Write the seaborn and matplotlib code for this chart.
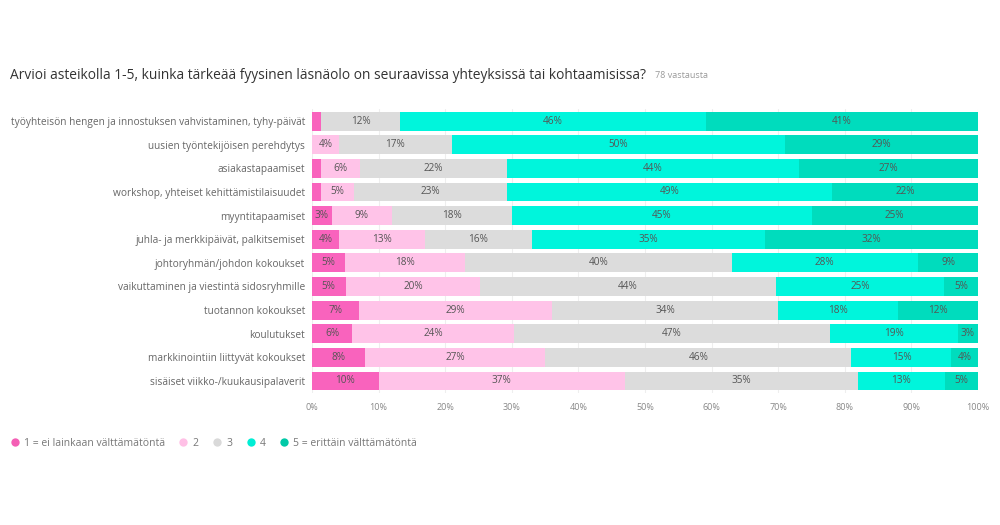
import numpy as np
import pandas as pd
import matplotlib
matplotlib.use("Agg")
import matplotlib.pyplot as plt
import seaborn as sns
from matplotlib.lines import Line2D

categories = [
    "työyhteisön hengen ja innostuksen vahvistaminen, tyhy-päivät",
    "uusien työntekijöisen perehdytys",
    "asiakastapaamiset",
    "workshop, yhteiset kehittämistilaisuudet",
    "myyntitapaamiset",
    "juhla- ja merkkipäivät, palkitsemiset",
    "johtoryhmän/johdon kokoukset",
    "vaikuttaminen ja viestintä sidosryhmille",
    "tuotannon kokoukset",
    "koulutukset",
    "markkinointiin liittyvät kokoukset",
    "sisäiset viikko-/kuukausipalaverit",
]
v1 = [1.3, 0, 1.3, 1.3, 3, 4, 5, 5, 7, 6, 8, 10]
v2 = [0, 4, 6, 5, 9, 13, 18, 20, 29, 24, 27, 37]
v3 = [12, 17, 22, 23, 18, 16, 40, 44, 34, 47, 46, 35]
v4 = [46, 50, 44, 49, 45, 35, 28, 25, 18, 19, 15, 13]
v5 = [41, 29, 27, 22, 25, 32, 9, 5, 12, 3, 4, 5]
series_names = ["1 = ei lainkaan välttämätöntä", "2", "3", "4", "5 = erittäin välttämätöntä"]
colors = ["#f963bd", "#ffc3e8", "#dcdcdc", "#00f5dc", "#00dcbd"]
legend_colors = ["#f45fb5", "#ffc0e6", "#d9d9d9", "#00eed5", "#00c9a7"]
xticks = [0, 10, 20, 30, 40, 50, 60, 70, 80, 90, 100]
title = "Arvioi asteikolla 1-5, kuinka tärkeää fyysinen läsnäolo on seuraavissa yhteyksissä tai kohtaamisissa?"
subtitle = "78 vastausta"

sns.set_theme(style="white")
plt.rcParams["font.family"] = ["Open Sans", "DejaVu Sans"]

vals = np.array([v1, v2, v3, v4, v5], dtype=float)
vals = vals / vals.sum(axis=0) * 100.0
cums = np.cumsum(vals, axis=0)

fig = plt.figure(figsize=(10, 5.25), dpi=100)
ax = fig.add_axes([0.312, 0.2518, 0.666, 0.540])

for x in xticks:
    ax.axvline(x, color="#eeeeee", lw=0.8, zorder=0)

for i in range(4, -1, -1):
    df = pd.DataFrame({"cat": categories, "val": cums[i]})
    sns.barplot(data=df, x="val", y="cat", orient="h", color=colors[i],
                width=0.8, ax=ax, saturation=1, edgecolor="none", linewidth=0, zorder=2)

raw = [v1, v2, v3, v4, v5]
for i in range(5):
    for j in range(len(categories)):
        lab = raw[i][j]
        if lab >= 3:
            center = cums[i][j] - vals[i][j] / 2
            ax.text(center, j, f"{int(round(lab))}%", ha="center", va="center",
                    fontsize=7.2, color="#555555", zorder=5)

ax.set_xlim(0, 100)
ax.set_ylim(len(categories) - 0.5, -0.5)
ax.set_xticks(xticks)
ax.set_xticklabels([f"{t}%" for t in xticks], fontsize=6.5, color="#888888")
ax.tick_params(axis="y", labelsize=7.3, colors="#666666", length=0, pad=5)
ax.tick_params(axis="x", length=0, pad=7)
ax.set_xlabel("")
ax.set_ylabel("")
for s in ax.spines.values():
    s.set_visible(False)

fig.text(0.01, 0.857, title, fontsize=9.9, color="#333333", ha="left", va="center")
fig.text(0.655, 0.857, subtitle, fontsize=6.5, color="#999999", ha="left", va="center")

handles = [Line2D([0], [0], marker="o", linestyle="", markersize=6,
                  markerfacecolor=c, markeredgecolor="none") for c in legend_colors]
fig.legend(handles, series_names, loc="center left", bbox_to_anchor=(0.0, 0.155),
           ncol=5, frameon=False, fontsize=7.5, labelcolor="#777777",
           handletextpad=0.4, columnspacing=1.25, handlelength=1.0)

fig.savefig("out.png", dpi=100, facecolor="white")
